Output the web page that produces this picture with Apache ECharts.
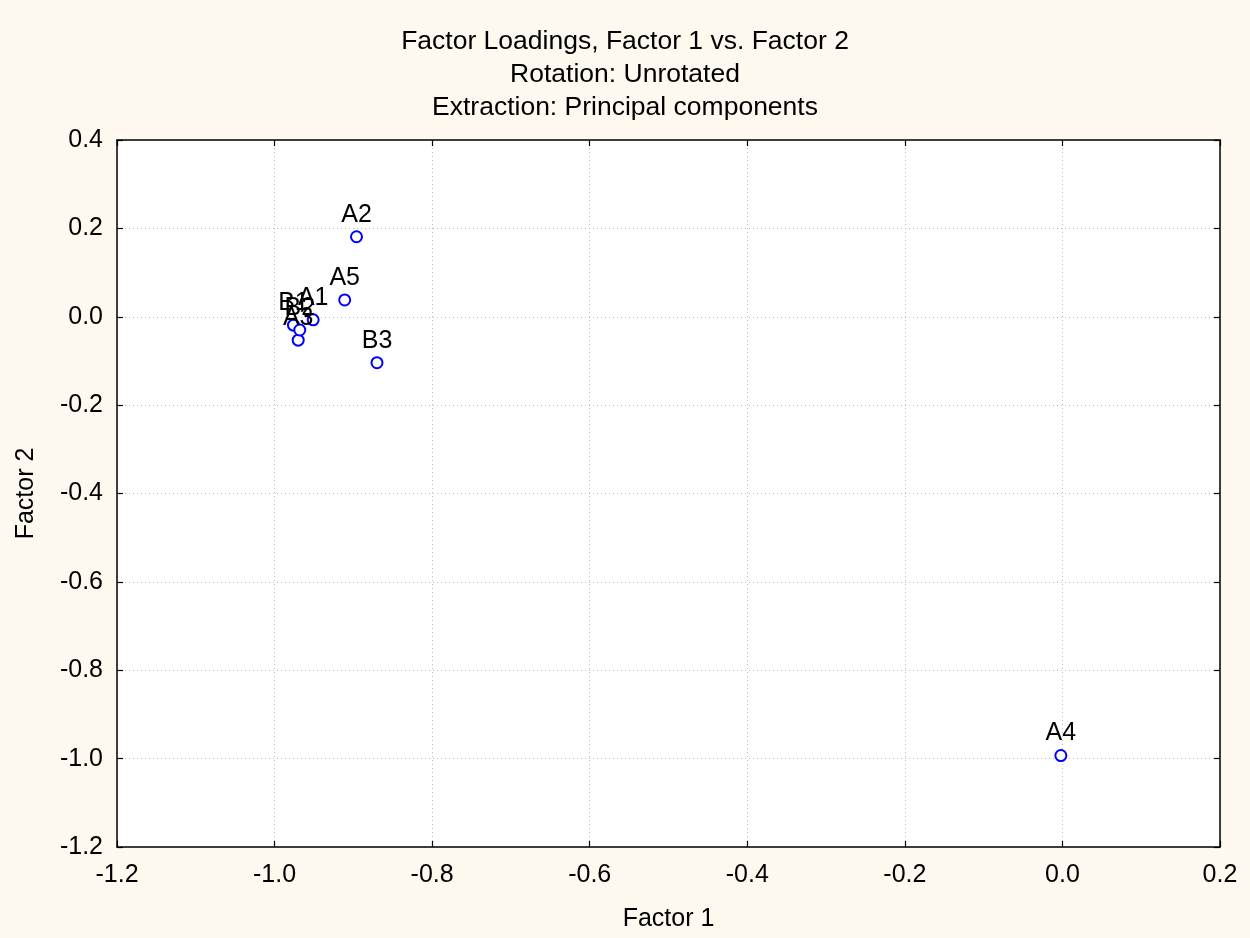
<!DOCTYPE html>
<html>
<head>
<meta charset="utf-8">
<script src="https://cdn.jsdelivr.net/npm/echarts@6/dist/echarts.min.js"></script>
<style>
html,body{margin:0;padding:0;background:#fdf9ee;}
#c{width:1250px;height:938px;}
</style>
</head>
<body>
<div id="c"></div>
<script>
const varNames = ["A1","A2","A3","A4","A5","B1","B2","B3"];
const factor1 = [-0.951,-0.896,-0.970,-0.002,-0.911,-0.976,-0.968,-0.870];
const factor2 = [-0.007,0.181,-0.053,-0.993,0.038,-0.019,-0.030,-0.104];
const titleLines = ["Factor Loadings, Factor 1 vs. Factor 2","Rotation: Unrotated","Extraction: Principal components"];
const xAxisTitle = "Factor 1";
const yAxisTitle = "Factor 2";

const FONT = "'Liberation Sans', Arial, sans-serif";
const FS = 25;
const data = varNames.map((n,i)=>({name:n,value:[factor1[i],factor2[i]]}));
const fmt = v => v.toFixed(1);

const chart = echarts.init(document.getElementById('c'));
const baseAxis = {
  interval: 0.2,
  axisLine:{show:true,onZero:false,lineStyle:{color:'#000',width:1.5}},
  axisTick:{show:true,inside:true,length:6,lineStyle:{color:'#000',width:1.2}},
  splitLine:{show:true,lineStyle:{color:'#bbbbbb',type:[1,3],width:1}}
};
chart.setOption({
  backgroundColor:'#fdf9ee',
  animation:false,
  title:{
    text:titleLines.join('\n'),
    left:'center', top:20,
    textStyle:{fontFamily:FONT,fontSize:26.5,fontWeight:'normal',color:'#000',lineHeight:33}
  },
  grid:{left:117,right:30,top:140,bottom:91,show:true,backgroundColor:'#ffffff',borderWidth:0},
  xAxis:[
    Object.assign({}, baseAxis, {
      type:'value', min:-1.2, max:0.2, position:'bottom',
      name:xAxisTitle, nameLocation:'middle', nameGap:60,
      nameTextStyle:{fontFamily:FONT,fontSize:FS,color:'#000'},
      axisLabel:{fontFamily:FONT,fontSize:FS,color:'#000',margin:16,formatter:fmt}
    }),
    Object.assign({}, baseAxis, {
      type:'value', min:-1.2, max:0.2, position:'top',
      axisLabel:{show:false}, splitLine:{show:false}
    })
  ],
  yAxis:[
    Object.assign({}, baseAxis, {
      type:'value', min:-1.2, max:0.4, position:'left',
      name:yAxisTitle, nameLocation:'middle', nameGap:78,
      nameTextStyle:{fontFamily:FONT,fontSize:FS,color:'#000'},
      axisLabel:{fontFamily:FONT,fontSize:FS,color:'#000',margin:14,formatter:fmt}
    }),
    Object.assign({}, baseAxis, {
      type:'value', min:-1.2, max:0.4, position:'right',
      axisLabel:{show:false}, splitLine:{show:false}
    })
  ],
  series:[{
    type:'scatter',
    xAxisIndex:0, yAxisIndex:0,
    symbol:'emptyCircle', symbolSize:11,
    itemStyle:{color:'#0000ff',borderColor:'#0000ff',borderWidth:1.6,opacity:1},
    label:{show:true,position:'top',distance:3,formatter:p=>p.name,
      fontFamily:FONT,fontSize:FS,color:'#000',opacity:1},
    data:data
  }]
});
</script>
</body>
</html>
